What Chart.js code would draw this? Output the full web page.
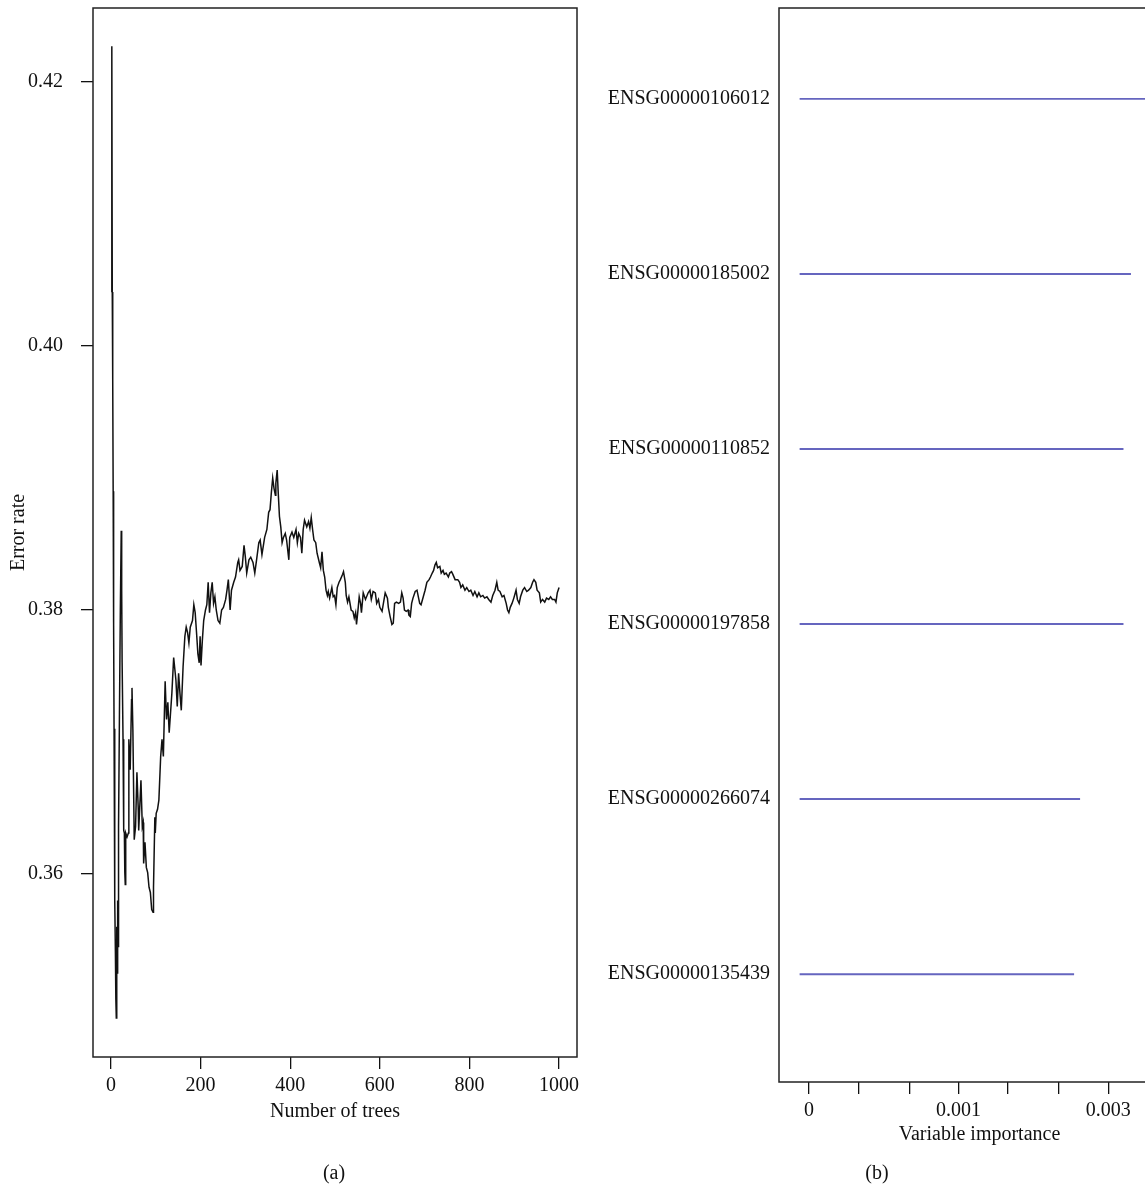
<!DOCTYPE html>
<html>
<head>
<meta charset="utf-8">
<title>Random forest error rate and variable importance</title>
<script src="https://cdn.jsdelivr.net/npm/chart.js@4.4.1/dist/chart.umd.min.js"></script>
<style>
    html, body {
        margin: 0;
        padding: 0;
        background: #ffffff;
        width: 1145px;
        height: 1187px;
        overflow: hidden;
        font-family: 'Liberation Serif', 'DejaVu Serif', serif;
    }
    .panel {
        position: absolute;
        top: 0;
        height: 1187px;
    }
    #panelA { left: 0; width: 600px; }
    #panelB { left: 590px; width: 600px; }
    .caption {
        position: absolute;
        top: 1161px;
        font-size: 20px;
        color: #111;
        transform: translateX(-50%);
    }
</style>
</head>
<body>
<div class="panel" id="panelA"><canvas id="errorChart"></canvas></div>
<div class="panel" id="panelB"><canvas id="importanceChart"></canvas></div>
<div class="caption" style="left:334px">(a)</div>
<div class="caption" style="left:877px">(b)</div>

<script>
// (a) OOB error rate vs number of trees
const trees = [
    1, 2, 3, 4, 5, 6, 7, 8, 9, 10, 11, 12, 13, 14, 15, 16, 17, 19, 21, 23, 24, 25, 27, 28, 29, 30,
    31, 32, 33, 36, 39, 40, 43, 46, 47, 49, 52, 55, 58, 61, 62, 67, 70, 72, 73, 76, 79, 82, 85, 88,
    91, 94, 95, 98, 99, 101, 104, 107, 111, 114, 117, 121, 124, 127, 130, 133, 136, 140, 145, 148,
    151, 154, 157, 161, 165, 168, 171, 174, 177, 182, 185, 188, 191, 194, 197, 199, 201, 204, 207, 211,
    214, 217, 220, 223, 226, 229, 232, 235, 239, 243, 247, 251, 256, 259, 262, 266, 269, 274, 278, 283,
    285, 288, 293, 297, 300, 303, 308, 312, 317, 321, 325, 330, 333, 337, 343, 348, 352, 355, 358, 361,
    364, 367, 368, 371, 373, 376, 379, 382, 385, 389, 392, 397, 399, 404, 408, 413, 416, 419, 423, 426,
    429, 432, 437, 441, 444, 447, 450, 453, 457, 460, 465, 468, 471, 474, 477, 480, 483, 485, 488, 493,
    496, 499, 502, 505, 509, 512, 517, 519, 523, 525, 528, 531, 536, 540, 543, 546, 548, 551, 554, 557,
    559, 563, 568, 574, 578, 581, 585, 590, 593, 597, 600, 605, 608, 612, 617, 619, 623, 627, 630, 633,
    637, 642, 646, 649, 652, 655, 659, 663, 665, 668, 671, 674, 679, 683, 686, 689, 692, 697, 701, 705,
    710, 713, 717, 720, 723, 726, 729, 734, 737, 741, 744, 748, 753, 756, 760, 763, 768, 774, 778, 781,
    785, 790, 794, 799, 803, 808, 812, 817, 821, 825, 830, 834, 839, 843, 848, 852, 857, 861, 864, 868,
    873, 877, 882, 885, 888, 891, 895, 899, 904, 907, 911, 914, 919, 923, 928, 932, 937, 941, 944, 948,
    951, 956, 959, 963, 968, 972, 977, 981, 985, 990, 993, 996, 1000
];
const errorRate = [
    0.4041, 0.4227, 0.4041, 0.3975, 0.3890, 0.3790, 0.3710, 0.3630, 0.3580, 0.3540, 0.3505, 0.3491, 0.3560, 0.3525, 0.3580, 0.3545, 0.3635, 0.3720, 0.3800, 0.3860, 0.3815, 0.3760, 0.3702, 0.3679, 0.3633, 0.3631,
    0.3601, 0.3592, 0.3631, 0.3628, 0.3631, 0.3702, 0.3679, 0.3732, 0.3741, 0.3709, 0.3626, 0.3636, 0.3677, 0.3649, 0.3633, 0.3671, 0.3636, 0.3639, 0.3608, 0.3624, 0.3605, 0.3601, 0.3590, 0.3586,
    0.3573, 0.3571, 0.3590, 0.3643, 0.3631, 0.3646, 0.3649, 0.3656, 0.3689, 0.3702, 0.3689, 0.3746, 0.3717, 0.3730, 0.3707, 0.3722, 0.3737, 0.3764, 0.3747, 0.3727,
    0.3752, 0.3737, 0.3724, 0.3757, 0.3780, 0.3787, 0.3783, 0.3775, 0.3787, 0.3792, 0.3804, 0.3798, 0.3783, 0.3767, 0.3760, 0.3780, 0.3758, 0.3777, 0.3792, 0.3800,
    0.3804, 0.3821, 0.3798, 0.3813, 0.3821, 0.3805, 0.3810, 0.3800, 0.3792, 0.3790, 0.3800, 0.3802, 0.3808, 0.3815, 0.3823, 0.3800, 0.3815, 0.3821, 0.3825, 0.3836,
    0.3838, 0.3830, 0.3833, 0.3849, 0.3840, 0.3828, 0.3838, 0.3840, 0.3836, 0.3828, 0.3838, 0.3851, 0.3853, 0.3842, 0.3855, 0.3861, 0.3874, 0.3876, 0.3889, 0.3900,
    0.3892, 0.3887, 0.3896, 0.3906, 0.3891, 0.3871, 0.3863, 0.3851, 0.3855, 0.3858, 0.3853, 0.3838, 0.3855, 0.3859, 0.3855, 0.3861, 0.3851, 0.3858, 0.3855, 0.3843,
    0.3861, 0.3868, 0.3863, 0.3867, 0.3862, 0.3870, 0.3861, 0.3853, 0.3851, 0.3843, 0.3836, 0.3832, 0.3844, 0.3830, 0.3825, 0.3815, 0.3811, 0.3814, 0.3809, 0.3817,
    0.3810, 0.3811, 0.3804, 0.3817, 0.3821, 0.3823, 0.3827, 0.3829, 0.3821, 0.3811, 0.3806, 0.3810, 0.3800, 0.3799, 0.3794, 0.3798, 0.3789, 0.3799, 0.3810, 0.3805,
    0.3798, 0.3813, 0.3808, 0.3813, 0.3815, 0.3808, 0.3814, 0.3813, 0.3805, 0.3808, 0.3802, 0.3799, 0.3805, 0.3813, 0.3809, 0.3802, 0.3795, 0.3789, 0.3790, 0.3805,
    0.3806, 0.3805, 0.3806, 0.3813, 0.3809, 0.3800, 0.3799, 0.3800, 0.3796, 0.3795, 0.3805, 0.3809, 0.3814, 0.3815, 0.3810, 0.3805, 0.3804, 0.3810, 0.3815, 0.3821,
    0.3823, 0.3825, 0.3828, 0.3830, 0.3834, 0.3836, 0.3832, 0.3833, 0.3828, 0.3830, 0.3827, 0.3828, 0.3825, 0.3828, 0.3829, 0.3827, 0.3823, 0.3823, 0.3821, 0.3817,
    0.3819, 0.3815, 0.3817, 0.3814, 0.3815, 0.3811, 0.3814, 0.3810, 0.3813, 0.3810, 0.3811, 0.3809, 0.3810, 0.3808, 0.3806, 0.3811, 0.3815, 0.3821, 0.3815, 0.3814,
    0.3810, 0.3811, 0.3805, 0.3800, 0.3798, 0.3802, 0.3805, 0.3809, 0.3815, 0.3808, 0.3805, 0.3810, 0.3815, 0.3817, 0.3814, 0.3815, 0.3817, 0.3821, 0.3823, 0.3821,
    0.3815, 0.3813, 0.3806, 0.3808, 0.3806, 0.3809, 0.3808, 0.3810, 0.3808, 0.3808, 0.3806, 0.3813, 0.3817
];
const treeTicks = [0, 200, 400, 600, 800, 1000];
const errorTicks = [0.36, 0.38, 0.40, 0.42];

// (b) variable importance, top to bottom
const genes = [
    'ENSG00000106012',
    'ENSG00000185002',
    'ENSG00000110852',
    'ENSG00000197858',
    'ENSG00000266074',
    'ENSG00000135439'
];
const importance = [0.0023, 0.00215, 0.0021, 0.0021, 0.00181, 0.00177];
const importanceStart = -0.00006;
const importanceTicks = [0, 0.00033, 0.00067, 0.001, 0.00133, 0.00167, 0.002];
const importanceTickLabels = ['0', '', '', '0.001', '', '', '0.003'];

const FONT = "'Liberation Serif', 'DejaVu Serif', serif";
const INK = '#111111';

Chart.defaults.font.family = FONT;
Chart.defaults.font.size = 20;
Chart.defaults.color = INK;
Chart.defaults.animation = false;

// draws the box round the plot area, like R's box()
const frameBox = {
    id: 'frameBox',
    afterDatasetsDraw(chart) {
        const {ctx, chartArea} = chart;
        ctx.save();
        ctx.strokeStyle = '#222222';
        ctx.lineWidth = 1.5;
        ctx.strokeRect(chartArea.left, chartArea.top, chartArea.right - chartArea.left, chartArea.bottom - chartArea.top);
        ctx.restore();
    }
};

function fixedTicks(values) {
    return function(scale) {
        scale.ticks = values.map(v => ({ value: v }));
    };
}

// fixed axis size, and no extra room for half labels at the ends
function fixedSize(key, size) {
    return function(scale) {
        scale[key] = size;
        scale.paddingTop = 0;
        scale.paddingBottom = 0;
        scale.paddingLeft = 0;
        scale.paddingRight = 0;
    };
}

const tickGrid = {
    display: true,
    drawOnChartArea: false,
    drawTicks: true,
    tickLength: 12,
    color: INK,
    lineWidth: 1.3
};

function initializeErrorChart() {
    const ctx = document.getElementById('errorChart').getContext('2d');
    new Chart(ctx, {
        type: 'line',
        data: {
            datasets: [{
                data: trees.map((t, i) => ({ x: t, y: errorRate[i] })),
                borderColor: INK,
                borderWidth: 1.5,
                pointRadius: 0,
                tension: 0,
                fill: false
            }]
        },
        options: {
            responsive: true,
            maintainAspectRatio: false,
            layout: { padding: { top: 8, right: 23, bottom: 0, left: 0 } },
            plugins: { legend: { display: false }, tooltip: { enabled: false } },
            scales: {
                x: {
                    type: 'linear',
                    min: -40,
                    max: 1040,
                    offset: false,
                    afterBuildTicks: fixedTicks(treeTicks),
                    afterFit: fixedSize('height', 130),
                    grid: tickGrid,
                    border: { display: false },
                    ticks: { padding: 5, maxRotation: 0, callback: v => String(v) },
                    title: { display: true, text: 'Number of trees', padding: { top: 0, bottom: 63 } }
                },
                y: {
                    type: 'linear',
                    min: 0.346136,
                    max: 0.425606,
                    offset: false,
                    afterBuildTicks: fixedTicks(errorTicks),
                    afterFit: fixedSize('width', 93),
                    grid: tickGrid,
                    border: { display: false },
                    ticks: { padding: 18, callback: v => v.toFixed(2) },
                    title: { display: true, text: 'Error rate', padding: { top: 7, bottom: 0 } }
                }
            }
        },
        plugins: [frameBox]
    });
}

function initializeImportanceChart() {
    const ctx = document.getElementById('importanceChart').getContext('2d');
    new Chart(ctx, {
        type: 'bar',
        data: {
            datasets: [{
                data: genes.map((g, i) => ({ y: i, x: [importanceStart, importance[i]] })),
                backgroundColor: '#6565bf',
                borderWidth: 0,
                barThickness: 1.3
            }]
        },
        options: {
            indexAxis: 'y',
            responsive: true,
            maintainAspectRatio: false,
            layout: { padding: { top: 8, right: 10, bottom: 0, left: 0 } },
            plugins: { legend: { display: false }, tooltip: { enabled: false } },
            scales: {
                x: {
                    type: 'linear',
                    min: -0.0002,
                    max: 0.00248,
                    offset: false,
                    afterBuildTicks: fixedTicks(importanceTicks),
                    afterFit: fixedSize('height', 105),
                    grid: tickGrid,
                    border: { display: false },
                    ticks: {
                        padding: 5,
                        maxRotation: 0,
                        autoSkip: false,
                        callback: (v, i) => importanceTickLabels[i]
                    },
                    title: { display: true, text: 'Variable importance', padding: { top: 0, bottom: 40 } }
                },
                y: {
                    type: 'linear',
                    reverse: true,
                    min: -0.519,
                    max: 5.616,
                    offset: false,
                    afterBuildTicks: fixedTicks(genes.map((g, i) => i)),
                    afterFit: fixedSize('width', 189),
                    grid: { display: false, drawTicks: false },
                    border: { display: false },
                    ticks: { padding: 9, autoSkip: false, callback: (v, i) => genes[i] }
                }
            }
        },
        plugins: [frameBox]
    });
}

document.addEventListener('DOMContentLoaded', function() {
    initializeErrorChart();
    initializeImportanceChart();
});
</script>
</body>
</html>
